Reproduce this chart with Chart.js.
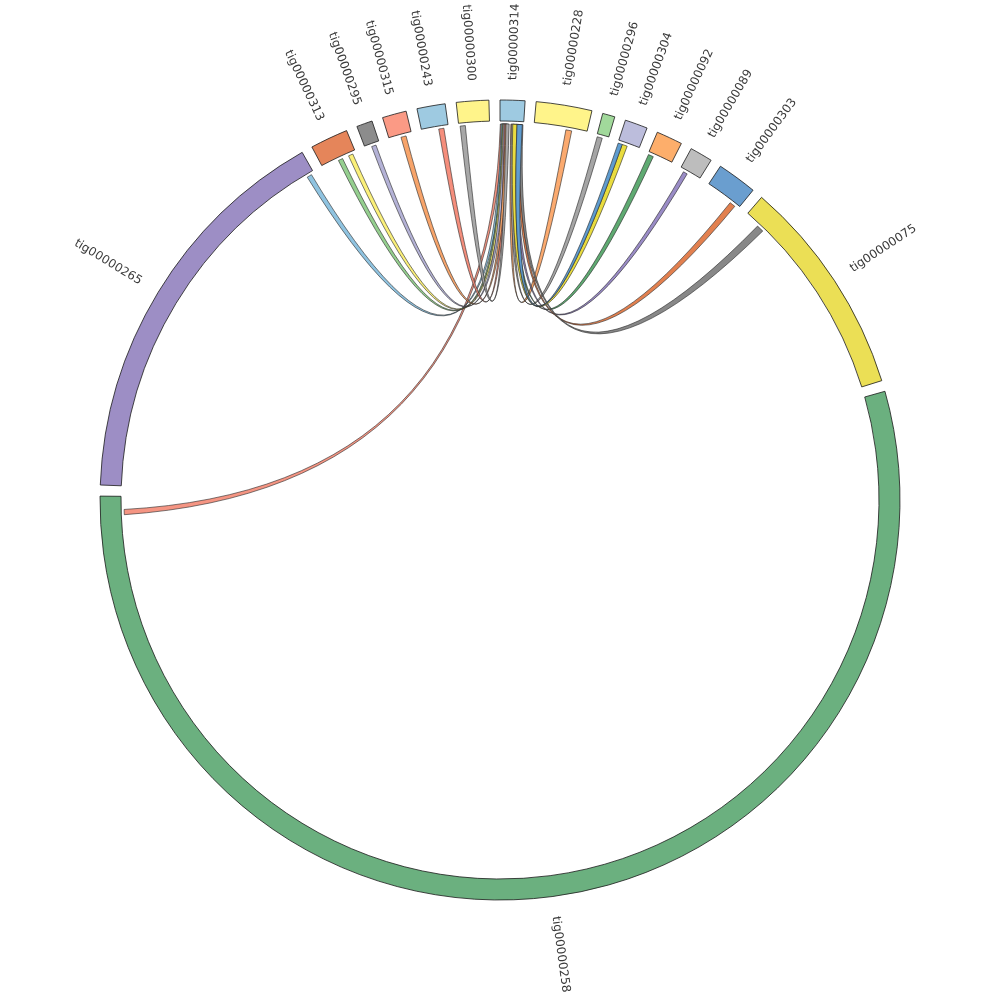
<!DOCTYPE html>
<html>
<head>
<meta charset="utf-8">
<script src="https://cdn.jsdelivr.net/npm/chart.js@4.4.1/dist/chart.umd.min.js"></script>
<style>
html, body { margin: 0; padding: 0; background: #fff; }
#wrap { width: 1000px; height: 1000px; }
</style>
</head>
<body>
<div id="wrap"><canvas id="chart"></canvas></div>
<script>
// contigs clockwise from 12 o'clock, sizes in kb
const contigs = ['tig00000314', 'tig00000228', 'tig00000296', 'tig00000304', 'tig00000092',
  'tig00000089', 'tig00000303', 'tig00000075', 'tig00000258', 'tig00000265',
  'tig00000313', 'tig00000295', 'tig00000315', 'tig00000243', 'tig00000300'];
const contigLengths = [36, 81, 18, 33, 38, 33, 58, 318, 1963, 582, 55, 23, 35, 41, 47];

// alignments (kb within each contig), every one lands on tig00000314
const linkSource = ['tig00000258', 'tig00000265', 'tig00000313', 'tig00000313', 'tig00000295',
  'tig00000243', 'tig00000315', 'tig00000300', 'tig00000228', 'tig00000296',
  'tig00000092', 'tig00000089', 'tig00000303', 'tig00000075', 'tig00000304', 'tig00000304'];
const linkSourceStart = [1935, 570, 26, 43, 10, 26, 18, 2, 49, 1, 1, 6.5, 43, 24, 7, 0.5];
const linkSourceEnd   = [1943, 577.5, 33, 50, 17, 34, 26, 10, 58, 9, 9, 13, 52, 35, 15, 7];
const linkTarget = ['tig00000314', 'tig00000314', 'tig00000314', 'tig00000314', 'tig00000314',
  'tig00000314', 'tig00000314', 'tig00000314', 'tig00000314', 'tig00000314',
  'tig00000314', 'tig00000314', 'tig00000314', 'tig00000314', 'tig00000314', 'tig00000314'];
const linkTargetStart = [0.5, 1.5, 3, 4, 5, 6.5, 8, 9, 16.5, 17.5, 22, 24, 28, 30, 19.5, 26];
const linkTargetEnd   = [5, 6.5, 8, 9, 10, 11.5, 13, 14, 21.5, 22.5, 27, 29, 33, 35, 26, 34];

// styles
const sectorColors = ['#9ecae1', '#fff48a', '#a1d99b', '#bcbddc', '#fdae6b',
  '#bdbdbd', '#6a9ecf', '#ebdf55', '#6bb07f', '#9d8ec5',
  '#e5855a', '#8c8c8c', '#fb9a85', '#9ecae1', '#fff48a'];
const linkColors = ['#f59583', '#8fc3e0', '#95cf8f', '#fbf07a', '#b4b2d6',
  '#f58e7c', '#f7a46a', '#a8a8a8', '#fbaa6f', '#a5a5a5',
  '#5faa72', '#9a8cc6', '#e2804f', '#888888', '#e9dc3f', '#5f9ccf'];

const GAP_DEG = 1.59;
const RING_OUTER = 400;
const RING_INNER = 379;
const LINK_INSET = 3;
const LINK_PULL = 0.06;   // how far the curve control point leans toward the chord ends
const LABEL_OFFSET = 20;

// interleave each contig with a blank gap slice
const totalLen = contigLengths.reduce((s, v) => s + v, 0);
const gapLen = totalLen * GAP_DEG / (360 - contigs.length * GAP_DEG);
const values = [], fills = [], borders = [];
contigLengths.forEach((len, i) => {
  values.push(len, gapLen);
  fills.push(sectorColors[i], 'rgba(0,0,0,0)');
  borders.push(0.8, 0);
});

const chordPlugin = {
  id: 'chords',
  afterDatasetsDraw(chart) {
    const arcs = chart.getDatasetMeta(0).data;
    const ctx = chart.ctx;
    const cx = arcs[0].x, cy = arcs[0].y;
    const r = arcs[0].innerRadius - LINK_INSET;
    const angleAt = (name, pos) => {
      const i = contigs.indexOf(name);
      const a = arcs[i * 2];
      return a.startAngle + (a.endAngle - a.startAngle) * pos / contigLengths[i];
    };
    ctx.save();
    ctx.lineWidth = 0.6;
    ctx.strokeStyle = '#262626';
    linkSource.forEach((src, k) => {
      const a1 = angleAt(src, linkSourceStart[k]);
      const a2 = angleAt(src, linkSourceEnd[k]);
      const b1 = angleAt(linkTarget[k], linkTargetStart[k]);
      const b2 = angleAt(linkTarget[k], linkTargetEnd[k]);
      const am = (a1 + a2) / 2, bm = (b1 + b2) / 2;
      const mx = (Math.cos(am) + Math.cos(bm)) / 2 * r;
      const my = (Math.sin(am) + Math.sin(bm)) / 2 * r;
      const qx = cx + mx * LINK_PULL, qy = cy + my * LINK_PULL;
      ctx.beginPath();
      ctx.arc(cx, cy, r, a1, a2);
      ctx.quadraticCurveTo(qx, qy, cx + r * Math.cos(b1), cy + r * Math.sin(b1));
      ctx.arc(cx, cy, r, b1, b2);
      ctx.quadraticCurveTo(qx, qy, cx + r * Math.cos(a1), cy + r * Math.sin(a1));
      ctx.closePath();
      ctx.fillStyle = linkColors[k];
      ctx.fill();
      ctx.stroke();
    });
    ctx.restore();
  },
  afterDraw(chart) {
    const arcs = chart.getDatasetMeta(0).data;
    const ctx = chart.ctx;
    ctx.save();
    ctx.font = '12px "DejaVu Sans"';
    ctx.fillStyle = '#3a3a3a';
    ctx.textBaseline = 'middle';
    contigs.forEach((name, i) => {
      const a = arcs[i * 2];
      const mid = (a.startAngle + a.endAngle) / 2;
      const rl = a.outerRadius + LABEL_OFFSET;
      let theta = (mid + Math.PI / 2) % (2 * Math.PI);
      if (theta < 0) theta += 2 * Math.PI;
      ctx.save();
      ctx.translate(a.x + rl * Math.cos(mid), a.y + rl * Math.sin(mid));
      if (theta < Math.PI) {
        ctx.rotate(mid);
        ctx.textAlign = 'left';
      } else {
        ctx.rotate(mid + Math.PI);
        ctx.textAlign = 'right';
      }
      ctx.fillText(name, 0, 0);
      ctx.restore();
    });
    ctx.restore();
  }
};

new Chart(document.getElementById('chart'), {
  type: 'doughnut',
  data: {
    labels: contigs.flatMap(n => [n, '']),
    datasets: [{
      data: values,
      backgroundColor: fills,
      borderColor: '#1a1a1a',
      borderWidth: borders,
      borderAlign: 'center'
    }]
  },
  options: {
    responsive: true,
    maintainAspectRatio: false,
    animation: false,
    events: [],
    radius: RING_OUTER,
    cutout: (RING_INNER / RING_OUTER * 100) + '%',
    rotation: 0,
    circumference: 360,
    layout: { padding: 0 },
    plugins: {
      legend: { display: false },
      tooltip: { enabled: false }
    }
  },
  plugins: [chordPlugin]
});
</script>
</body>
</html>
